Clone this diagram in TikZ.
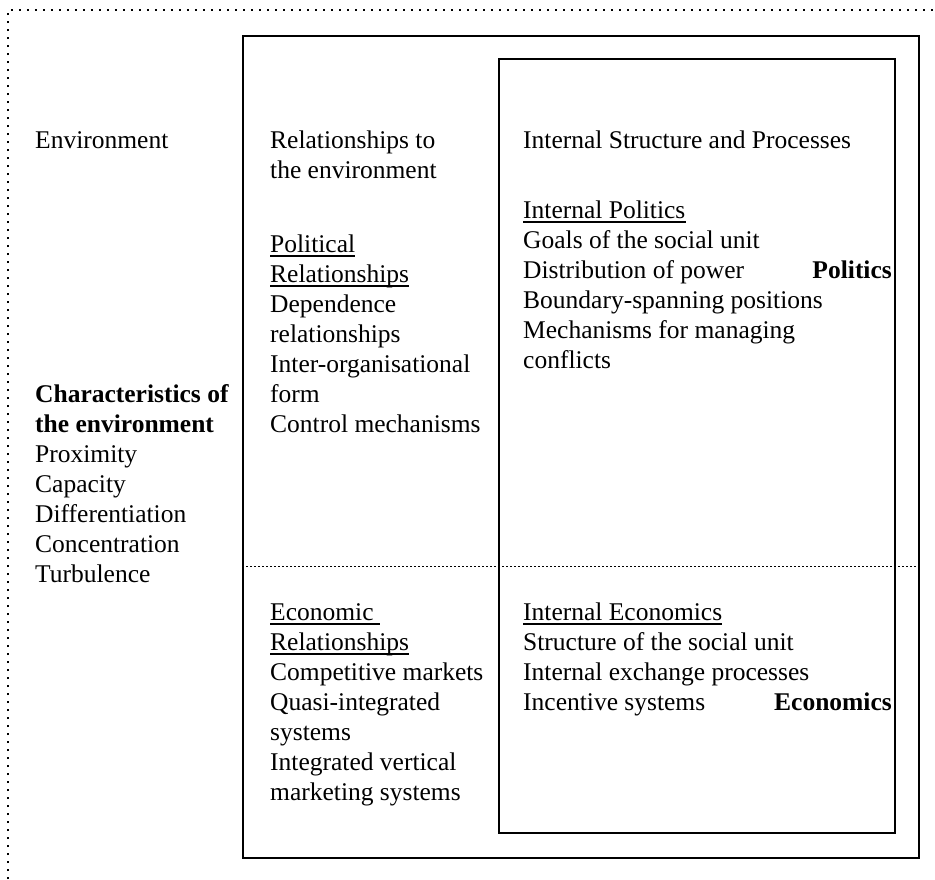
\documentclass[tikz,border=0pt]{standalone}
\usepackage{fontspec}
\setmainfont{Liberation Serif}
\begin{document}
\begin{tikzpicture}[x=1pt,y=-1pt,
  txt/.style={anchor=base west, inner sep=0pt, font=\fontsize{25.5}{30}\selectfont},
  btxt/.style={txt, font=\fontsize{25.5}{30}\selectfont\bfseries},
  rtxt/.style={anchor=base east, inner sep=0pt, font=\fontsize{25.5}{30}\selectfont\bfseries},
  frame/.style={line width=2pt},
  dotframe/.style={line width=1.6pt, dash pattern=on 1.6pt off 6.4pt},
  divider/.style={line width=1pt, dash pattern=on 2pt off 2pt},
  uline/.style={line width=1.1pt}]
\useasboundingbox (0,0) rectangle (935,879);
% dotted environment frame
\coordinate (dA) at (8,879);
\coordinate (dB) at (8,10);
\coordinate (dC) at (935,10);
\draw[dotframe] (dA) -- (dB) -- (dC);
% boxes
\node[frame, draw, inner sep=0pt, minimum width=676pt, minimum height=822pt, anchor=north west] (outer) at (242,35) {};
\node[frame, draw, inner sep=0pt, minimum width=396pt, minimum height=774pt, anchor=north west] (inner) at (498,58) {};
\coordinate (divL) at (242,566);
\coordinate (divR) at (918,566);
\draw[divider] (divL) -- (divR);
% left column
\node[txt] (env) at (35,148) {Environment};
\node[btxt] (ch1) at (35,402) {Characteristics of};
\node[btxt] (ch2) at (35,432) {the environment};
\node[txt] (c1) at (35,462) {Proximity};
\node[txt] (c2) at (35,492) {Capacity};
\node[txt] (c3) at (35,522) {Differentiation};
\node[txt] (c4) at (35,552) {Concentration};
\node[txt] (c5) at (35,582) {Turbulence};
% middle column
\node[txt] (m1) at (270,148) {Relationships to};
\node[txt] (m2) at (270,178) {the environment};
\node[txt] (p1) at (270,252) {Political};
\node[txt] (p2) at (270,282) {Relationships};
\node[txt] (p3) at (270,312) {Dependence};
\node[txt] (p4) at (270,342) {relationships};
\node[txt] (p5) at (270,372) {Inter-organisational};
\node[txt] (p6) at (270,402) {form};
\node[txt] (p7) at (270,432) {Control mechanisms};
\node[txt] (e1) at (270,620) {Economic};
\node[txt] (e2) at (270,650) {Relationships};
\node[txt] (e3) at (270,680) {Competitive markets};
\node[txt] (e4) at (270,710) {Quasi-integrated};
\node[txt] (e5) at (270,740) {systems};
\node[txt] (e6) at (270,770) {Integrated vertical};
\node[txt] (e7) at (270,800) {marketing systems};
% right column
\node[txt] (r0) at (523,148) {Internal Structure and Processes};
\node[txt] (ip) at (523,218) {Internal Politics};
\node[txt] (ip1) at (523,248) {Goals of the social unit};
\node[txt] (ip2) at (523,278) {Distribution of power};
\node[rtxt] (pol) at (892,278) {Politics};
\node[txt] (ip3) at (523,308) {Boundary-spanning positions};
\node[txt] (ip4) at (523,338) {Mechanisms for managing};
\node[txt] (ip5) at (523,368) {conflicts};
\node[txt] (ie) at (523,620) {Internal Economics};
\node[txt] (ie1) at (523,650) {Structure of the social unit};
\node[txt] (ie2) at (523,680) {Internal exchange processes};
\node[txt] (ie3) at (523,710) {Incentive systems};
\node[rtxt] (eco) at (892,710) {Economics};
% underlines
\draw[uline] ([yshift=-4pt]p1.base west) -- ([yshift=-4pt]p1.base east);
\draw[uline] ([yshift=-4pt]p2.base west) -- ([yshift=-4pt]p2.base east);
\draw[uline] ([yshift=-4pt]e1.base west) -- ([xshift=6pt,yshift=-4pt]e1.base east);
\draw[uline] ([yshift=-4pt]e2.base west) -- ([yshift=-4pt]e2.base east);
\draw[uline] ([yshift=-4pt]ip.base west) -- ([yshift=-4pt]ip.base east);
\draw[uline] ([yshift=-4pt]ie.base west) -- ([yshift=-4pt]ie.base east);
\end{tikzpicture}
\end{document}
